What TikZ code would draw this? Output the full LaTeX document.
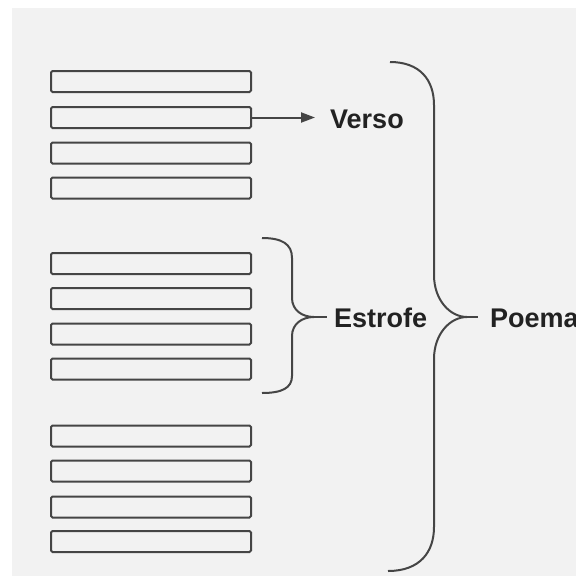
\documentclass[tikz,border=0pt]{standalone}
\usepackage{fontspec}
\setmainfont{Liberation Sans}
\usetikzlibrary{arrows.meta}
\definecolor{bg}{HTML}{F2F2F2}
\definecolor{ink}{HTML}{454545}
\definecolor{txt}{HTML}{222222}
\tikzset{
  linebox/.style={draw=ink, line width=2pt, fill=bg, rounded corners=1.5pt,
    minimum width=200pt, minimum height=21pt, inner sep=0pt},
  label/.style={text=txt, font=\fontsize{27}{32}\selectfont\bfseries, inner sep=0pt, anchor=west},
  brace/.style={draw=ink, line width=2pt},
}
\begin{document}
\begin{tikzpicture}[x=1pt,y=-1pt]
\useasboundingbox (0,0) rectangle (576,576);
\fill[white] (0,0) rectangle (576,576);
\fill[bg] (12,8) rectangle (576,576);
% group 1
\node[linebox] (r1) at (151,81.5) {};
\node[linebox] (r2) at (151,117.5) {};
\node[linebox] (r3) at (151,153) {};
\node[linebox] (r4) at (151,188) {};
% group 2
\node[linebox] (r5) at (151,263.5) {};
\node[linebox] (r6) at (151,298.5) {};
\node[linebox] (r7) at (151,334) {};
\node[linebox] (r8) at (151,369) {};
% group 3
\node[linebox] (r9) at (151,436) {};
\node[linebox] (r10) at (151,471) {};
\node[linebox] (r11) at (151,507) {};
\node[linebox] (r12) at (151,541.5) {};
% labels
\node[label] (verso) at (330,119) {Verso};
\node[label] (estrofe) at (334,318) {Estrofe};
\node[label] (poema) at (490,318) {Poema};
% arrow
\draw[draw=ink, line width=2pt, -{Triangle[length=14pt,width=10pt]}, shorten >=15pt] (r2.east) -- (r2.east -| verso.west);
% estrofe brace
\coordinate (eb) at (327,317);
\draw[brace] (262,238) .. controls (282,238) and (292,244) .. (292,258) -- (292,298)
  .. controls (292,310) and (302,317) .. (314,317)
  .. controls (302,317) and (292,324) .. (292,336) -- (292,376)
  .. controls (292,388) and (282,393) .. (262,393);
\draw[brace] (314,317) -- (eb);
% poema brace
\coordinate (pb) at (478,317);
\draw[brace] (390,62) .. controls (420,62) and (434,80) .. (434,105) -- (434,275)
  .. controls (434,300) and (450,317) .. (467,317)
  .. controls (450,317) and (434,334) .. (434,359) -- (434,527)
  .. controls (434,552) and (420,571) .. (388,571);
\draw[brace] (467,317) -- (pb);
\end{tikzpicture}
\end{document}
